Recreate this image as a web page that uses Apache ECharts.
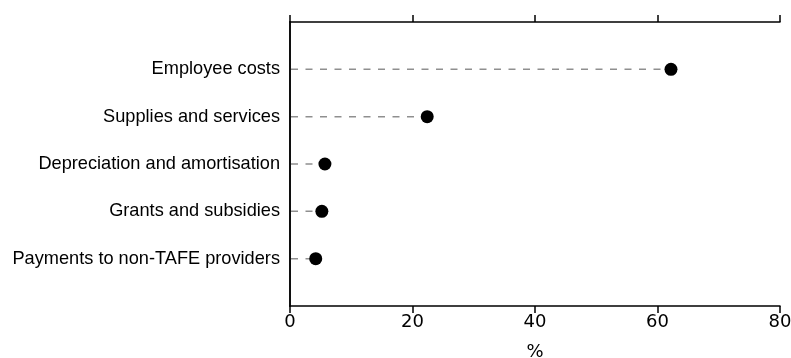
<!DOCTYPE html>
<html>
<head>
<meta charset="utf-8">
<style>
  html, body { margin: 0; padding: 0; background: #ffffff; }
  #chart { width: 791px; height: 358px; }
</style>
<script src="https://cdn.jsdelivr.net/npm/echarts@6/dist/echarts.min.js"></script>
</head>
<body>
<div id="chart"></div>
<script>
// Expense categories, top to bottom
const categories = [
  'Employee costs',
  'Supplies and services',
  'Depreciation and amortisation',
  'Grants and subsidies',
  'Payments to non-TAFE providers'
];
// Share of total expenses (%)
const shares = [62.2, 22.4, 5.7, 5.2, 4.2];
// Percentage axis ticks
const xTicks = [0, 20, 40, 60, 80];

// Pad the category axis with an empty slot at each end
const yCats = [''].concat(categories, ['']);
const points = shares.map((v, i) => [v, i + 1]);

const FONT = '"Liberation Sans", Arial, sans-serif';
const NUM_FONT = '"DejaVu Sans", sans-serif';
const chart = echarts.init(document.getElementById('chart'), null, { renderer: 'canvas' });

const axisLine = { show: true, lineStyle: { color: '#000', width: 1.5 } };

chart.setOption({
  animation: false,
  grid: { left: 290, right: 11, top: 22, bottom: 52, containLabel: false, outerBoundsMode: 'none' },
  xAxis: [
    {
      type: 'value', position: 'bottom',
      min: xTicks[0], max: xTicks[xTicks.length - 1], interval: 20,
      axisLine: axisLine,
      axisTick: { show: true, length: 7, lineStyle: { color: '#000', width: 1.5 } },
      splitLine: { show: false },
      axisLabel: { color: '#000', fontSize: 18, fontFamily: NUM_FONT, margin: 7 },
      name: '%', nameLocation: 'middle', nameGap: 37,
      nameTextStyle: { color: '#000', fontSize: 18, fontFamily: NUM_FONT }
    },
    {
      type: 'value', position: 'top',
      min: xTicks[0], max: xTicks[xTicks.length - 1], interval: 20,
      axisLine: axisLine,
      axisTick: { show: true, length: 7, lineStyle: { color: '#000', width: 1.5 } },
      splitLine: { show: false },
      axisLabel: { show: false }
    }
  ],
  yAxis: [
    {
      type: 'category', data: yCats, inverse: true, boundaryGap: false,
      axisLine: axisLine,
      axisTick: { show: false },
      splitLine: { show: false },
      axisLabel: { color: '#000', fontSize: 18.2, fontFamily: FONT, margin: 10,
                   interval: 0 }
    },
    {
      type: 'category', data: yCats, inverse: true, boundaryGap: false,
      position: 'right',
      axisLine: axisLine,
      axisTick: { show: false },
      axisLabel: { show: false },
      splitLine: { show: false }
    }
  ],
  series: [
    {
      // dashed leader from zero to each value
      type: 'custom',
      xAxisIndex: 0, yAxisIndex: 0,
      data: points,
      silent: true,
      z: 1,
      renderItem: function (params, api) {
        const end = api.coord([api.value(0), api.value(1)]);
        const start = api.coord([0, api.value(1)]);
        return {
          type: 'line',
          shape: { x1: start[0] + 1, y1: start[1], x2: end[0], y2: end[1] },
          style: { stroke: '#8f8f8f', lineWidth: 1.5, lineDash: [7, 7.5] }
        };
      }
    },
    {
      type: 'scatter',
      xAxisIndex: 0, yAxisIndex: 0,
      data: points,
      symbol: 'circle',
      symbolSize: 13,
      itemStyle: { color: '#000', opacity: 1 },
      z: 3
    }
  ]
});
</script>
</body>
</html>
